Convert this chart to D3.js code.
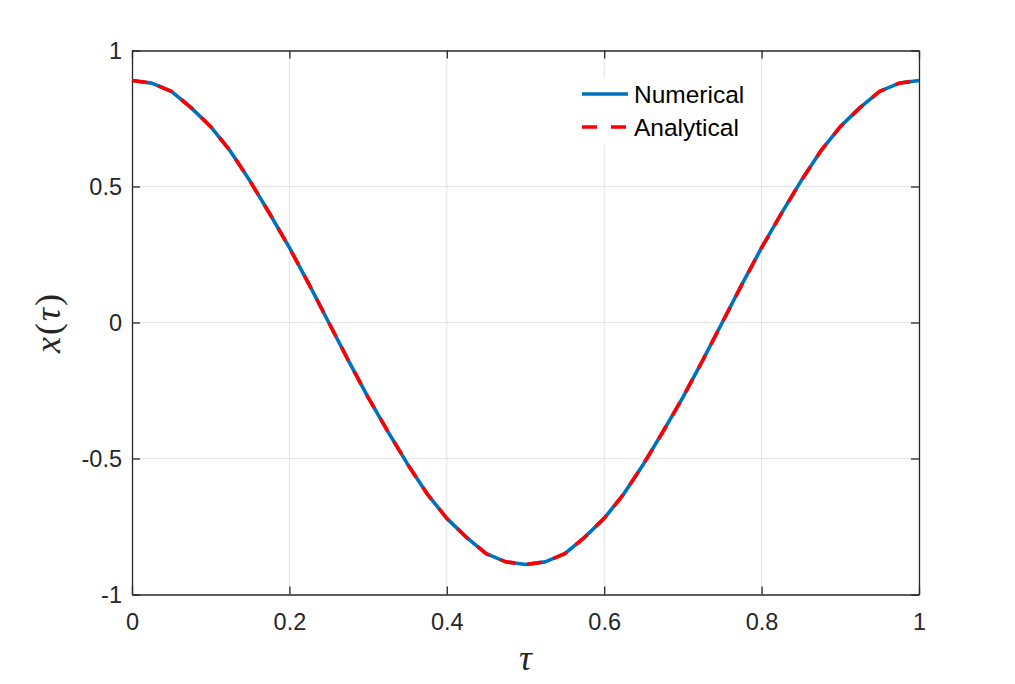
<!DOCTYPE html>
<html>
<head>
<meta charset="utf-8">
<script src="https://cdn.jsdelivr.net/npm/d3@7"></script>
<style>
  body { margin: 0; background: #fff; }
  svg { display: block; }
</style>
</head>
<body>
<div id="chart"></div>
<script>
// tau samples and the two curves
const tau = [0, 0.025, 0.05, 0.075, 0.1, 0.125, 0.15, 0.175, 0.2, 0.225,
  0.25, 0.275, 0.3, 0.325, 0.35, 0.375, 0.4, 0.425, 0.45, 0.475,
  0.5, 0.525, 0.55, 0.575, 0.6, 0.625, 0.65, 0.675, 0.7, 0.725,
  0.75, 0.775, 0.8, 0.825, 0.85, 0.875, 0.9, 0.925, 0.95, 0.975, 1];
const numerical = [0.89, 0.88, 0.85, 0.79, 0.72, 0.63, 0.52, 0.40, 0.275, 0.14,
  0.0, -0.14, -0.275, -0.40, -0.52, -0.63, -0.72, -0.79, -0.85, -0.88,
  -0.89, -0.88, -0.85, -0.79, -0.72, -0.63, -0.52, -0.40, -0.275, -0.14,
  0.0, 0.14, 0.275, 0.40, 0.52, 0.63, 0.72, 0.79, 0.85, 0.88, 0.89];
const analytical = [0.89, 0.88, 0.85, 0.79, 0.72, 0.63, 0.52, 0.40, 0.275, 0.14,
  0.0, -0.14, -0.275, -0.40, -0.52, -0.63, -0.72, -0.79, -0.85, -0.88,
  -0.89, -0.88, -0.85, -0.79, -0.72, -0.63, -0.52, -0.40, -0.275, -0.14,
  0.0, 0.14, 0.275, 0.40, 0.52, 0.63, 0.72, 0.79, 0.85, 0.88, 0.89];
const xTicks = [0, 0.2, 0.4, 0.6, 0.8, 1];
const yTicks = [-1, -0.5, 0, 0.5, 1];
const seriesNames = ["Numerical", "Analytical"];

const width = 1015, height = 684;
const margin = { left: 132, top: 50.5, right: 96, bottom: 89.5 };
const iw = width - margin.left - margin.right;
const ih = height - margin.top - margin.bottom;
const axisColor = "#262626";
const font = "'Liberation Sans', Arial, Helvetica, sans-serif";

const svg = d3.select("#chart").append("svg")
    .attr("width", width)
    .attr("height", height);

const x = d3.scaleLinear().domain([0, 1]).range([0, iw]);
const y = d3.scaleLinear().domain([-1, 1]).range([ih, 0]);

const g = svg.append("g")
    .attr("transform", `translate(${margin.left},${margin.top})`);

// grid
g.append("g").selectAll("line")
    .data(xTicks.slice(1, -1))
    .join("line")
    .attr("x1", d => x(d)).attr("x2", d => x(d))
    .attr("y1", 0).attr("y2", ih)
    .attr("stroke", "#e3e3e3").attr("stroke-width", 1);
g.append("g").selectAll("line")
    .data(yTicks.slice(1, -1))
    .join("line")
    .attr("x1", 0).attr("x2", iw)
    .attr("y1", d => y(d)).attr("y2", d => y(d))
    .attr("stroke", "#e3e3e3").attr("stroke-width", 1);

// axes, ticks inward on all four sides
const tickLen = 8;
const styleAxis = sel => {
    sel.select(".domain").attr("stroke", axisColor).attr("stroke-width", 1.3);
    sel.selectAll(".tick line").attr("stroke", axisColor).attr("stroke-width", 1.3);
    sel.selectAll("text").attr("fill", axisColor)
        .style("font-family", font).style("font-size", "23.5px");
};

g.append("g")
    .attr("transform", `translate(0,${ih})`)
    .call(d3.axisBottom(x).tickValues(xTicks).tickFormat(d => String(d))
        .tickSizeInner(-tickLen).tickSizeOuter(0).tickPadding(19))
    .call(styleAxis);
g.append("g")
    .call(d3.axisTop(x).tickValues(xTicks).tickFormat("")
        .tickSizeInner(-tickLen).tickSizeOuter(0))
    .call(styleAxis);
g.append("g")
    .call(d3.axisLeft(y).tickValues(yTicks).tickFormat(d => String(d))
        .tickSizeInner(-tickLen).tickSizeOuter(0).tickPadding(10))
    .call(styleAxis);
g.append("g")
    .attr("transform", `translate(${iw},0)`)
    .call(d3.axisRight(y).tickValues(yTicks).tickFormat("")
        .tickSizeInner(-tickLen).tickSizeOuter(0))
    .call(styleAxis);

// curves
const line = d3.line()
    .x((d, i) => x(tau[i]))
    .y(d => y(d));

g.append("path")
    .datum(numerical)
    .attr("fill", "none")
    .attr("stroke", "#0072BD")
    .attr("stroke-width", 3.6)
    .attr("stroke-linejoin", "round")
    .attr("d", line);

g.append("path")
    .datum(analytical)
    .attr("fill", "none")
    .attr("stroke", "#FF0000")
    .attr("stroke-width", 3.6)
    .attr("stroke-dasharray", "15 12")
    .attr("d", line);

// legend
const legend = svg.append("g").attr("transform", "translate(574,78)");
legend.append("rect")
    .attr("width", 184).attr("height", 66)
    .attr("fill", "#fff").attr("stroke", "#fff");
const legendItems = [
    { name: seriesNames[0], color: "#0072BD", dash: null },
    { name: seriesNames[1], color: "#FF0000", dash: "15 14" }
];
legendItems.forEach((d, i) => {
    const ly = 16 + i * 33;
    legend.append("line")
        .attr("x1", 8).attr("x2", 54)
        .attr("y1", ly).attr("y2", ly)
        .attr("stroke", d.color).attr("stroke-width", 3.6)
        .attr("stroke-dasharray", d.dash);
    legend.append("text")
        .attr("x", 60).attr("y", ly)
        .attr("dy", "0.36em")
        .attr("fill", "#000")
        .style("font-family", font).style("font-size", "24.5px")
        .text(d.name);
});

// axis labels
svg.append("text")
    .attr("x", margin.left + iw / 2)
    .attr("y", 670)
    .attr("text-anchor", "middle")
    .attr("fill", axisColor)
    .style("font-family", "'Liberation Serif', 'DejaVu Serif', serif")
    .style("font-style", "italic")
    .style("font-size", "36px")
    .text("τ");

const yl = svg.append("text")
    .attr("transform", `translate(60,${margin.top + ih / 2}) rotate(-90)`)
    .attr("text-anchor", "middle")
    .attr("fill", axisColor)
    .style("font-family", "'Liberation Serif', 'DejaVu Serif', serif")
    .style("font-size", "36px")
    .style("letter-spacing", "2px");
yl.append("tspan").style("font-style", "italic").text("x");
yl.append("tspan").text("(");
yl.append("tspan").style("font-style", "italic").text("τ");
yl.append("tspan").text(")");
</script>
</body>
</html>
